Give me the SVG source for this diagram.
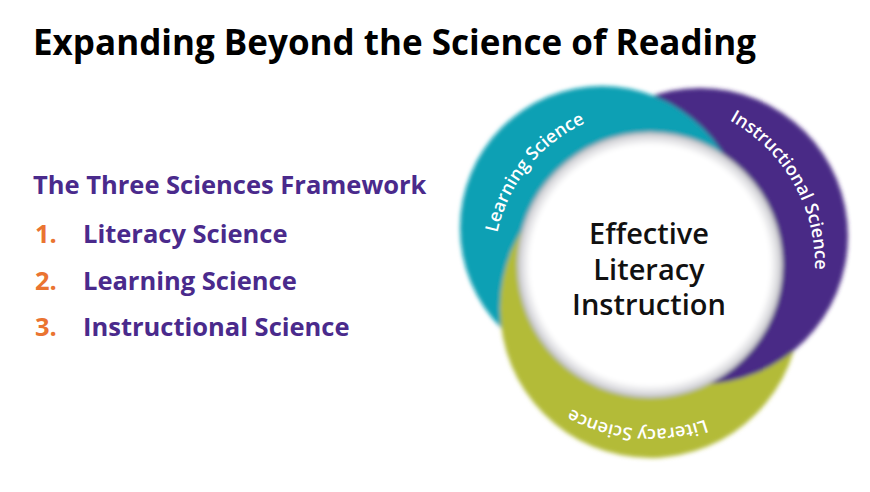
<svg xmlns="http://www.w3.org/2000/svg" xmlns:xlink="http://www.w3.org/1999/xlink" width="870" height="492" viewBox="0 0 870 492">
<defs>
<style>
.t{font-family:"Open Sans","DejaVu Sans",sans-serif;font-weight:700}
.h{font-size:25.5px;fill:#4a2a8c}
.n{font-size:25.5px;fill:#ea7431}
.r{font-family:"Open Sans",sans-serif;font-weight:600;font-size:18px;fill:#fff}
.c{font-family:"Open Sans",sans-serif;font-weight:600;font-size:29px;fill:#111;text-anchor:middle}
</style>
<filter id="b" x="-10%" y="-10%" width="120%" height="120%"><feGaussianBlur stdDeviation="2"/></filter>
<radialGradient id="w" cx="0.5" cy="0.5" r="0.5"><stop offset="0.9" stop-color="#fff"/><stop offset="0.97" stop-color="#d8d8dc"/><stop offset="1" stop-color="#b8b8bc"/></radialGradient>
<clipPath id="le"><rect x="0" y="0" width="660" height="492"/></clipPath>
<clipPath id="ri"><rect x="660" y="0" width="300" height="492"/></clipPath>
<path id="p1" d="M494 265 A156 156 0 1 1 806 265 A156 156 0 1 1 494 265"/>
<path id="p2" d="M485 265 A165 165 0 1 1 815 265 A165 165 0 1 1 485 265"/>
<path id="p3" d="M486 265 A164 164 0 1 1 814 265 A164 164 0 1 1 486 265"/>
</defs>
<rect width="870" height="492" fill="#fff"/>
<text class="t" x="33" y="55" font-size="35" fill="#000">Expanding Beyond the Science of Reading</text>
<g id="list">
<text class="t h" x="33" y="194" font-size="24">The Three Sciences Framework</text>
<text class="t n" x="35" y="243">1.</text><text class="t h" x="83" y="243">Literacy Science</text>
<text class="t n" x="35" y="290">2.</text><text class="t h" x="83" y="290">Learning Science</text>
<text class="t n" x="35" y="336">3.</text><text class="t h" x="83" y="336">Instructional Science</text>
</g>
<g id="rings" filter="url(#b)">
<circle cx="650" cy="308" r="150" fill="#b3bb37" clip-path="url(#ri)"/>
<circle id="purple" cx="700" cy="236" r="148" fill="#4a2a86"/>
<circle id="teal" cx="602" cy="228" r="142" fill="#0aa0b4"/>
<circle id="green" cx="650" cy="308" r="150" fill="#b3bb37" clip-path="url(#le)"/>
<circle id="center" cx="650" cy="265" r="133" fill="url(#w)"/>
</g>
<g id="labels">
<text class="r"><textPath xlink:href="#p1" startOffset="3.3%">Learning Science</textPath></text>
<text class="r"><textPath xlink:href="#p2" startOffset="33%">Instructional Science</textPath></text>
<text class="r"><textPath xlink:href="#p3" startOffset="69.5%">Literacy Science</textPath></text>
<text class="c" x="649" y="244">Effective</text>
<text class="c" x="649" y="280">Literacy</text>
<text class="c" x="649" y="315">Instruction</text>
</g>
</svg>
